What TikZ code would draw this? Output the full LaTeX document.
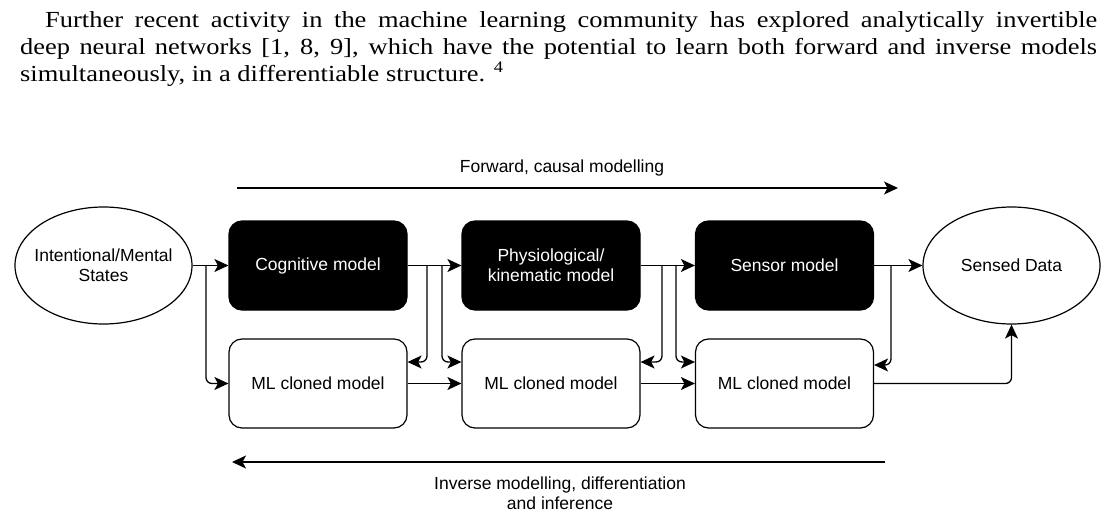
\documentclass[tikz,border=0pt]{standalone}
\usepackage{fontspec}
\setmainfont{Liberation Serif}[FakeStretch=1.15]
\newfontfamily\diagfam{Liberation Sans}
\newcommand\diagfont{\diagfam\fontsize{17.5}{20}\selectfont}
\newcommand\parfont{\fontsize{23}{27}\selectfont}
\usetikzlibrary{arrows.meta,shapes.geometric}
\begin{document}
\begin{tikzpicture}[x=1pt,y=-1pt,
  every node/.style={inner sep=0pt},
  blk/.style={draw=black, fill=black, rounded corners=13pt, minimum width=178pt, minimum height=89pt, text=white, font=\diagfont, align=center, line width=1.2pt},
  mlbox/.style={draw=black, fill=white, rounded corners=13pt, minimum width=178pt, minimum height=89pt, font=\diagfont, align=center, line width=1.2pt},
  ell/.style={ellipse, draw=black, inner xsep=-20pt, inner ysep=0pt, minimum width=177pt, minimum height=117pt, font=\diagfont, align=center, line width=1.2pt},
  con/.style={line width=1.3pt, -{Stealth[length=14pt,width=13pt,inset=3.5pt]}, rounded corners=6pt},
  lbl/.style={font=\diagfont, align=center},
  para/.style={font=\parfont, anchor=base west},
]
\fill[white] (0,0) rectangle (1117,516);
\useasboundingbox (0,0) rectangle (1117,516);

% paragraph
\node[para] (p1) at (45,28) {\makebox[1052pt][s]{Further recent activity in the machine learning community has explored analytically invertible}};
\node[para] (p2) at (20,55) {\makebox[1077pt][s]{deep neural networks [1, 8, 9], which have the potential to learn both forward and inverse models}};
\node[para] (p3) at (20,82) {simultaneously, in a differentiable structure. \textsuperscript{4}};

% nodes
\node[ell] (ims) at (103.5,265.5) {Intentional/Mental\\States};
\node[blk] (cog) at (318,265.5) {Cognitive model};
\node[blk] (phy) at (551,265.5) {Physiological/\\kinematic model};
\node[blk] (sen) at (784.5,265.5) {Sensor model};
\node[ell] (sd) at (1011.5,265.5) {Sensed Data};
\node[mlbox] (ml1) at (318,383.5) {ML cloned model};
\node[mlbox] (ml2) at (551,383.5) {ML cloned model};
\node[mlbox] (ml3) at (784.5,383.5) {ML cloned model};

% branch points
\coordinate (b0) at (206,265.5);
\coordinate (b1) at (427,265.5);
\coordinate (b2) at (442,265.5);
\coordinate (b3) at (662,265.5);
\coordinate (b4) at (676,265.5);
\coordinate (b5) at (891,265.5);

% connectors
\draw[con] (ims.east) -- (cog.west);
\draw[con] (b0) |- (ml1.west);
\draw[con] (cog.east) -- (phy.west);
\draw[con] (b1) |- ([yshift=21.5pt]ml1.east);
\draw[con] (b2) |- ([yshift=21.5pt]ml2.west);
\draw[con] (ml1.east) -- (ml2.west);
\draw[con] (phy.east) -- (sen.west);
\draw[con] (b3) |- ([yshift=21.5pt]ml2.east);
\draw[con] (b4) |- ([yshift=21.5pt]ml3.west);
\draw[con] (ml2.east) -- (ml3.west);
\draw[con] (sen.east) -- (sd.west);
\draw[con] (b5) |- ([yshift=18.5pt]ml3.east);
\draw[con] (ml3.east) -| (sd.south);

% forward / inverse arrows
\coordinate (f0) at (237,188);
\coordinate (f1) at (898,188);
\draw[con] (f0) -- (f1);
\node[lbl, anchor=base] (ft) at (562,173) {Forward, causal modelling};
\coordinate (i0) at (885,462);
\coordinate (i1) at (232,462);
\draw[con] (i0) -- (i1);
\node[lbl] (it) at (560,493) {Inverse modelling, differentiation\\and inference};
\end{tikzpicture}
\end{document}
